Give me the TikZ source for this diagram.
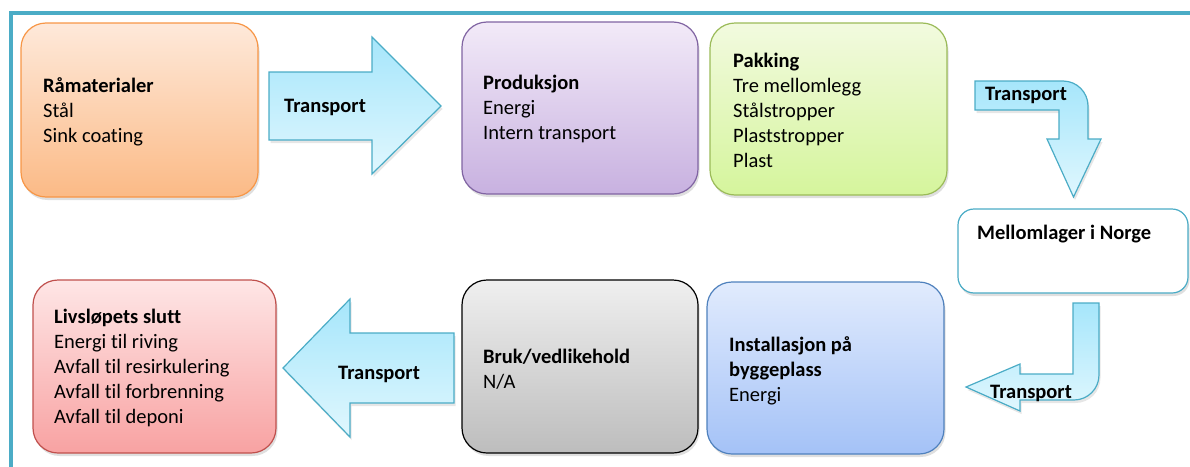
\documentclass[tikz,border=0pt]{standalone}
\usepackage{fontspec}
\setmainfont{Carlito}[Ligatures=NoCommon]
\usetikzlibrary{shadows}
\definecolor{frameC}{HTML}{4BACC6}
\definecolor{orTop}{HTML}{FEE9DA}
\definecolor{orBot}{HTML}{FBBA86}
\definecolor{orLine}{HTML}{F79646}
\definecolor{puTop}{HTML}{F2EAF8}
\definecolor{puBot}{HTML}{C8B1E0}
\definecolor{puLine}{HTML}{8064A2}
\definecolor{grTop}{HTML}{F2FADF}
\definecolor{grBot}{HTML}{D5F59C}
\definecolor{grLine}{HTML}{9BBB59}
\definecolor{blTop}{HTML}{E1EBFD}
\definecolor{blBot}{HTML}{A4C2F7}
\definecolor{blLine}{HTML}{4F81BD}
\definecolor{gyTop}{HTML}{EFEFEF}
\definecolor{gyBot}{HTML}{BDBDBD}
\definecolor{rdTop}{HTML}{FEE6E6}
\definecolor{rdBot}{HTML}{F8A2A2}
\definecolor{rdLine}{HTML}{C0504D}
\definecolor{arTop}{HTML}{A6E6FB}
\definecolor{arBot}{HTML}{E0F7FE}
\definecolor{arLine}{HTML}{4BACC6}
\tikzset{
  box/.style={draw, line width=1.2pt, rounded corners=25pt, inner sep=0pt,
    drop shadow={shadow xshift=1.5pt, shadow yshift=-3pt, opacity=0.25}},
  txt/.style={inner sep=0pt, anchor=west, align=left, text=black,
    font=\fontsize{20.5pt}{25pt}\selectfont},
  blockarrow/.style={draw=arLine, line width=1.2pt, top color=arTop, bottom color=arBot,
    drop shadow={shadow xshift=1.5pt, shadow yshift=-3pt, opacity=0.2}},
  framestyle/.style={draw=frameC, line width=3.5pt}
}
\begin{document}
\begin{tikzpicture}[x=1pt,y=-1pt]
\useasboundingbox (0,0) rectangle (1190,466);
% frame
\coordinate (fA) at (9,13);
\coordinate (fB) at (1190,13);
\coordinate (fC) at (11,13);
\coordinate (fD) at (11,470);
\draw[framestyle] (fA) -- (fB);
\draw[framestyle] (fC) -- (fD);

% boxes
\node[box, draw=orLine, top color=orTop, bottom color=orBot, minimum width=237pt, minimum height=174pt] (b1) at (139.5,110) {};
\node[box, draw=puLine, top color=puTop, bottom color=puBot, minimum width=236pt, minimum height=172pt] (b2) at (580,108) {};
\node[box, draw=grLine, top color=grTop, bottom color=grBot, minimum width=237pt, minimum height=172pt] (b3) at (828.5,109) {};
\node[box, draw=frameC, fill=white, rounded corners=16pt, minimum width=230pt, minimum height=84pt] (b4) at (1073,251) {};
\node[box, draw=blLine, top color=blTop, bottom color=blBot, minimum width=237pt, minimum height=172pt] (b5) at (825.5,368) {};
\node[box, draw=black, top color=gyTop, bottom color=gyBot, minimum width=236pt, minimum height=173pt] (b6) at (580,366.5) {};
\node[box, draw=rdLine, top color=rdTop, bottom color=rdBot, minimum width=243pt, minimum height=173pt] (b7) at (154.5,366.5) {};

% arrows
\path[blockarrow] (269,72) -- (372,72) -- (372,37) -- (441,106) -- (372,174) -- (372,140) -- (269,140) -- cycle;
\path[blockarrow] (454,333) -- (350,333) -- (350,299) -- (283,368) -- (350,437) -- (350,403) -- (454,403) -- cycle;
\path[blockarrow] (975,110) -- (975,81) -- (1063,81) .. controls (1076.8,81) and (1088,92.2) .. (1088,106)
   -- (1088,139) -- (1101,139) -- (1073.5,197) -- (1047,139) -- (1059,139) -- (1059,110) -- cycle;
\path[blockarrow] (1073,303) -- (1099,303) -- (1099,375) .. controls (1099,388.8) and (1087.8,400) .. (1074,400)
   -- (1020,400) -- (1020,411) -- (966,387) -- (1020,364) -- (1020,374) -- (1073,374) -- cycle;

% texts
\node[txt] (t1) at (43,112) {\textbf{Råmaterialer}\\Stål\\Sink coating};
\node[txt] (t2) at (483,108.5) {\textbf{Produksjon}\\Energi\\Intern transport};
\node[txt] (t3) at (733,110) {\textbf{Pakking}\\Tre mellomlegg\\Stålstropper\\Plaststropper\\Plast};
\node[txt] (t4) at (977,234) {\textbf{Mellomlager i Norge}};
\node[txt] (t5) at (729,370.5) {\textbf{Installasjon på}\\\textbf{byggeplass}\\Energi};
\node[txt] (t6) at (483,369) {\textbf{Bruk/vedlikehold}\\N/A};
\node[txt] (t7) at (54,368) {\textbf{Livsløpets slutt}\\Energi til riving\\Avfall til resirkulering\\Avfall til forbrenning\\Avfall til deponi};

\node[txt] (a1) at (284,107) {\textbf{Transport}};
\node[txt] (a2) at (985,95) {\textbf{Transport}};
\node[txt] (a3) at (990,393) {\textbf{Transport}};
\node[txt] (a4) at (338,374) {\textbf{Transport}};
\end{tikzpicture}
\end{document}
